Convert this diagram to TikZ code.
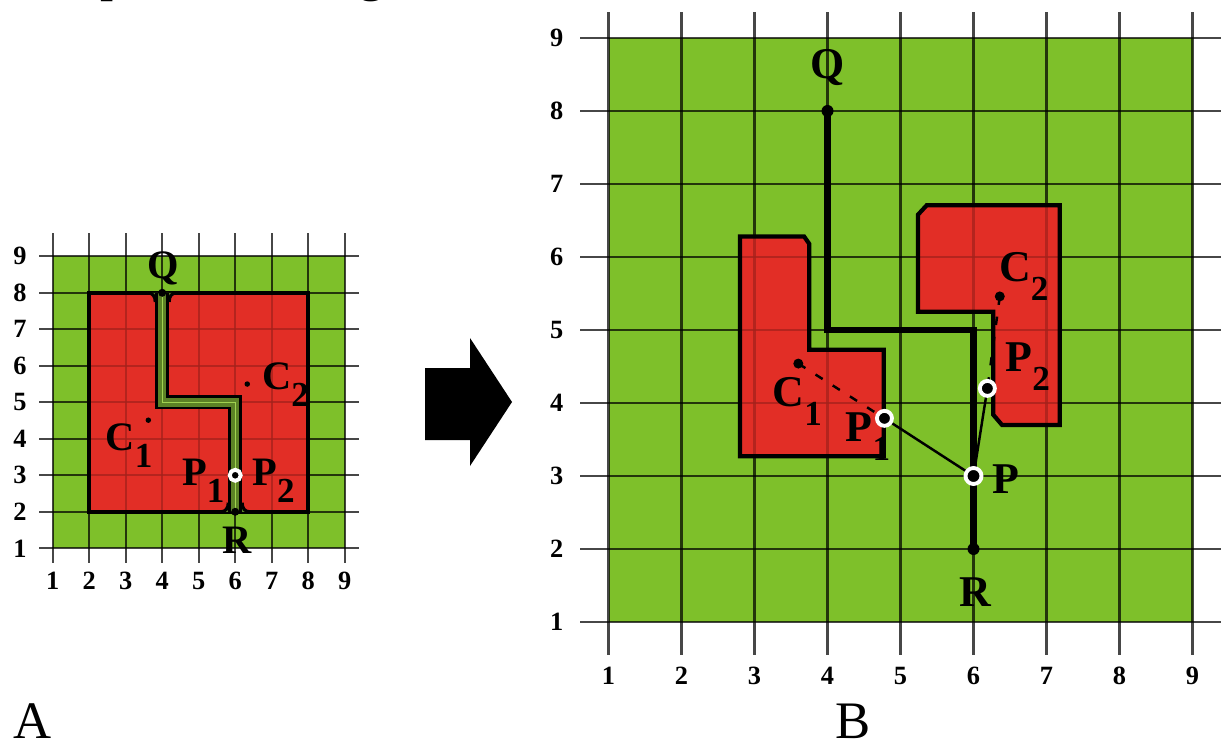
\documentclass[tikz,border=0pt]{standalone}
\usepackage{fontspec}
\setmainfont{Liberation Serif}
\definecolor{field}{RGB}{126,192,42}
\definecolor{block}{RGB}{226,46,38}
\definecolor{lane}{RGB}{92,130,38}
\definecolor{laneline}{RGB}{160,210,80}
\newcommand{\lowidx}[1]{\raisebox{-0.42em}{\fontsize{10}{10}\selectfont #1}}
\begin{document}
\begin{tikzpicture}[every node/.style={inner sep=0pt},
  lblA/.style={font=\fontsize{11.5}{12}\selectfont\bfseries},
  lblB/.style={font=\fontsize{12.5}{13}\selectfont\bfseries},
  num/.style={font=\fontsize{7.5}{8}\selectfont\bfseries},
  gridln/.style={black,opacity=0.72,line width=#1},
  veil/.style={fill=block,fill opacity=0.72},
  dot/.style={circle,fill=black,minimum size=#1}, dot/.default=1mm,
  ring/.style={circle,fill=black,draw=white,line width=1.1pt,minimum size=#1}, ring/.default=1.4mm]
\useasboundingbox (0,0) rectangle (12.21,7.47);
\node[font=\fontsize{15}{15}\selectfont,anchor=base west] (capp) at (1.0,7.56) {p};
\node[font=\fontsize{15}{15}\selectfont,anchor=base] (capg) at (3.72,7.56) {g};
\node[font=\fontsize{15}{15}\selectfont,anchor=base] (capA) at (0.33,0.09) {A};
\node[font=\fontsize{15}{15}\selectfont,anchor=base] (capB) at (8.53,0.09) {B};
\fill (4.25,3.07) -- (4.70,3.07) -- (4.70,2.81) -- (5.12,3.45) -- (4.70,4.09) -- (4.70,3.79) -- (4.25,3.79) -- cycle;

\begin{scope}[shift={(0.162,1.622)},scale=0.365]
\fill[field] (1,1) rectangle (9,9);
\fill[block] (2,2) rectangle (8,8);
\foreach \i in {1,...,9}{
  \draw[gridln=0.6pt] (\i,0.6) -- (\i,9.63);
  \draw[gridln=0.6pt] (0.63,\i) -- (9.4,\i);
  \node[num] at (\i,0.1) {\i};
  \node[num] at (0.1,\i) {\i};
}
\filldraw[veil,line width=1pt] (2,2) rectangle (8,8);
\coordinate (Qa) at (4,8);
\coordinate (Ka1) at (4,5);
\coordinate (Ka2) at (6,5);
\coordinate (Ra) at (6,2);
\coordinate (Pa) at (6,3);
\fill[lane] (3.6,8) .. controls (3.74,8) and (3.81,7.9) .. (3.81,7.75) -- (4.19,7.75) .. controls (4.19,7.9) and (4.26,8) .. (4.4,8) -- cycle;
\fill[lane] (5.6,2) .. controls (5.74,2) and (5.81,2.1) .. (5.81,2.25) -- (6.19,2.25) .. controls (6.19,2.1) and (6.26,2) .. (6.4,2) -- cycle;
\draw[line width=0.9pt] (3.6,8) .. controls (3.74,8) and (3.81,7.9) .. (3.81,7.75);
\draw[line width=0.9pt] (4.4,8) .. controls (4.26,8) and (4.19,7.9) .. (4.19,7.75);
\draw[line width=0.9pt] (5.6,2) .. controls (5.74,2) and (5.81,2.1) .. (5.81,2.25);
\draw[line width=0.9pt] (6.4,2) .. controls (6.26,2) and (6.19,2.1) .. (6.19,2.25);
\draw[line width=4pt] (Qa) -- (Ka1) -- (Ka2) -- (Ra);
\draw[lane,line width=2.4pt] (Qa) -- (Ka1) -- (Ka2) -- (Ra);
\draw[laneline,line width=0.4pt] (Qa) -- (Ka1) -- (Ka2) -- (Ra);
\node[dot=0.8mm] (qa) at (Qa) {};
\node[dot=0.8mm] (ra) at (Ra) {};
\node[ring=1.1mm] (pa) at (Pa) {};
\node[dot=0.55mm] (c1a) at (3.62,4.51) {};
\node[dot=0.55mm] (c2a) at (6.33,5.5) {};
\node[lblA,anchor=base] (qlabA) at (4.03,8.4) {Q};
\node[lblA,anchor=base] (rlabA) at (6.05,0.86) {R};
\node[lblA,anchor=base west] (c1labA) at (2.43,3.69) {C\lowidx{1}};
\node[lblA,anchor=base west] (c2labA) at (6.72,5.34) {C\lowidx{2}};
\node[lblA,anchor=base west] (p1labA) at (4.53,2.73) {P\lowidx{1}};
\node[lblA,anchor=base west] (p2labA) at (6.45,2.73) {P\lowidx{2}};
\end{scope}

\begin{scope}[shift={(5.355,0.52)},scale=0.73]
\fill[field] (1,1) rectangle (9,9);
\fill[block] (2.8,3.27) -- (2.8,6.28) -- (3.68,6.28) -- (3.75,6.18) -- (3.75,4.73) -- (4.77,4.73) -- (4.77,3.27) -- cycle;
\fill[block] (5.24,5.25) -- (5.24,6.58) -- (5.36,6.71) -- (7.18,6.71) -- (7.18,3.70) -- (6.39,3.70) -- (6.27,3.84) -- (6.27,5.25) -- cycle;
\foreach \i in {1,...,9}{
  \draw[gridln=0.85pt] (\i,0.55) -- (\i,9.36);
  \draw[gridln=0.85pt] (0.61,\i) -- (9.4,\i);
  \node[num] at (\i,0.26) {\i};
  \node[num] at (0.29,\i) {\i};
}
\filldraw[veil,line width=1.2pt] (2.8,3.27) -- (2.8,6.28) -- (3.68,6.28) -- (3.75,6.18) -- (3.75,4.73) -- (4.77,4.73) -- (4.77,3.27) -- cycle;
\filldraw[veil,line width=1.2pt] (5.24,5.25) -- (5.24,6.58) -- (5.36,6.71) -- (7.18,6.71) -- (7.18,3.70) -- (6.39,3.70) -- (6.27,3.84) -- (6.27,5.25) -- cycle;
\coordinate (Qb) at (4,8);
\coordinate (Kb1) at (4,5);
\coordinate (Kb2) at (6,5);
\coordinate (Rb) at (6,2);
\coordinate (Pb) at (6,3);
\coordinate (C1b) at (3.6,4.54);
\coordinate (P1b) at (4.78,3.79);
\coordinate (C2b) at (6.36,5.46);
\coordinate (P2b) at (6.19,4.2);
\draw[line width=1.8pt] (Qb) -- (Kb1) -- (Kb2) -- (Rb);
\draw[line width=0.7pt,dash pattern=on 2.4pt off 3.4pt] (C1b) -- (P1b);
\draw[line width=0.7pt,dash pattern=on 2.4pt off 3.4pt] (C2b) -- (P2b);
\draw[line width=0.7pt] (P1b) -- (Pb);
\draw[line width=0.7pt] (P2b) -- (Pb);
\node[dot=1.2mm] (qb) at (Qb) {};
\node[dot=1.2mm] (rb) at (Rb) {};
\node[dot=1mm] (c1b) at (C1b) {};
\node[dot=1mm] (c2b) at (C2b) {};
\node[ring=1.6mm] (pb) at (Pb) {};
\node[ring=1.5mm] (p1b) at (P1b) {};
\node[ring=1.5mm] (p2b) at (P2b) {};
\node[lblB,anchor=base] (qlabB) at (4,8.45) {Q};
\node[lblB,anchor=base] (rlabB) at (6.03,1.21) {R};
\node[lblB,anchor=base west] (plabB) at (6.25,2.76) {P};
\node[lblB,anchor=base west] (c1labB) at (3.24,3.95) {C\lowidx{1}};
\node[lblB,anchor=base west] (p1labB) at (4.24,3.47) {P\lowidx{1}};
\node[lblB,anchor=base west] (c2labB) at (6.34,5.66) {C\lowidx{2}};
\node[lblB,anchor=base west] (p2labB) at (6.43,4.43) {P\lowidx{2}};
\end{scope}
\end{tikzpicture}
\end{document}
